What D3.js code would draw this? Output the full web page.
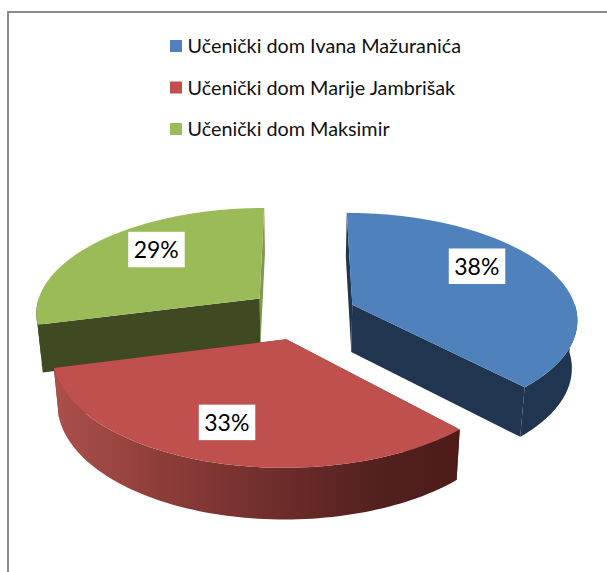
<!DOCTYPE html>
<html>
<head>
<meta charset="utf-8">
<script src="https://cdnjs.cloudflare.com/ajax/libs/d3/7.8.5/d3.min.js"></script>
<style>
html,body{margin:0;padding:0;background:#fff;overflow:hidden}
svg{display:block}
text{font-family:Lato,"Open Sans",sans-serif}
</style>
</head>
<body>
<script>
const categories = ["Učenički dom Ivana Mažuranića", "Učenički dom Marije Jambrišak", "Učenički dom Maksimir"];
const shares = [38, 33, 29];
const topColors = ["#4f81bd", "#c0504d", "#9bbb59"];
const startCutColors = ["#1f3550", "#6e2e2c", "#404a22"];
const endCutColors = ["#1f3550", "#6e2e2c", "#7f9a4a"];
const wallStops = [
  [["0%", "#1f3550"], ["100%", "#1f3550"]],
  [["0%", "#ab504b"], ["25%", "#8f3e3a"], ["55%", "#6e2d2b"], ["80%", "#52201e"], ["100%", "#4e1b19"]],
  [["0%", "#404a22"], ["100%", "#404a22"]]
];
const labelNudges = [[5, -16], [-24, 26], [-5, -13]];
const labelRadius = [0.6, 0.5, 0.6];

const W = 607, H = 572;
const cx = 302, cy = 314, Rx = 225, Ry = 105.5, persp = 0.125, explode = 0.243, depth = 47.5, shrink = 0.98;

const svg = d3.select("body").append("svg").attr("width", W).attr("height", H);
const defs = svg.append("defs");

// chart frame (open on the right and bottom, as cropped)
svg.append("path")
  .attr("d", d3.line()([[8, H], [8, 12], [W, 12]]))
  .attr("fill", "none").attr("stroke", "#8c8c8c").attr("stroke-width", 2);

const pie = d3.pie().sort(null).value(d => d).startAngle(0).endAngle(2 * Math.PI);
const arcs = pie(shares);

// ground plane -> screen, with perspective; z=1 is the underside of the pie
function project(X, Y, z) {
  const w = 1 - persp * Y;
  const sx = Rx * X / w, sy = Ry * Y / w;
  if (!z) return [cx + sx, cy + sy];
  return [cx + sx * shrink, cy + sy + depth / Math.sqrt(w)];
}
const line = d3.line();

const slices = arcs.map((a, i) => {
  const mid = (a.startAngle + a.endAngle) / 2;
  return {
    i, a, mid,
    ax: explode * Math.sin(mid),
    ay: -explode * Math.cos(mid)
  };
});

function rim(s, z, from, to) {
  const n = 80;
  return d3.range(n + 1).map(k => {
    const t = from + (to - from) * k / n;
    return project(s.ax + Math.sin(t), s.ay - Math.cos(t), z);
  });
}

// back to front: green, blue, red
const order = [2, 0, 1];
order.forEach(i => {
  const s = slices[i];
  const g = svg.append("g");
  const top = rim(s, 0, s.a.startAngle, s.a.endAngle), bottom = rim(s, 1, s.a.startAngle, s.a.endAngle);
  const apexTop = project(s.ax, s.ay, 0), apexBottom = project(s.ax, s.ay, 1);

  const grad = defs.append("linearGradient").attr("id", "wall" + i);
  grad.selectAll("stop").data(wallStops[i]).join("stop")
    .attr("offset", d => d[0]).attr("stop-color", d => d[1]);

  // cut faces
  g.append("path")
    .attr("d", line([apexTop, top[top.length - 1], bottom[bottom.length - 1], apexBottom]) + "Z")
    .attr("fill", endCutColors[i]);
  g.append("path")
    .attr("d", line([apexTop, top[0], bottom[0], apexBottom]) + "Z")
    .attr("fill", startCutColors[i]);
  // outer wall: only the part of the rim that faces the viewer
  const from = Math.max(s.a.startAngle, Math.PI / 2), to = Math.min(s.a.endAngle, 3 * Math.PI / 2);
  if (to > from) {
    const wt = rim(s, 0, from, to), wb = rim(s, 1, from, to);
    g.append("path")
      .attr("d", line(wt.concat(wb.slice().reverse())) + "Z")
      .attr("fill", "url(#wall" + i + ")");
  }
  // top face
  g.append("path")
    .attr("d", line([apexTop].concat(top)) + "Z")
    .attr("fill", topColors[i]);
});

// data labels
const fmt = v => Math.round(v / d3.sum(shares) * 100) + "%";
slices.forEach(s => {
  const r = labelRadius[s.i];
  const p = project(s.ax + r * Math.sin(s.mid), s.ay - r * Math.cos(s.mid), 0);
  const x = p[0] + labelNudges[s.i][0], y = p[1] + labelNudges[s.i][1];
  svg.append("rect").attr("x", x - 28).attr("y", y - 18).attr("width", 56.5).attr("height", 35.5).attr("fill", "#fff");
  svg.append("text").attr("x", x).attr("y", y + 8.5).attr("text-anchor", "middle")
    .attr("font-size", 23).attr("fill", "#000").text(fmt(shares[s.i]));
});

// legend
const legendY = d3.scalePoint().domain(d3.range(categories.length)).range([46, 129]);
const legend = svg.append("g").selectAll("g").data(categories).join("g")
  .attr("transform", (d, i) => `translate(170,${legendY(i)})`);
legend.append("rect").attr("x", 0).attr("y", -6).attr("width", 12).attr("height", 12)
  .attr("fill", (d, i) => topColors[i]);
legend.append("text").attr("x", 17.5).attr("y", 7).attr("font-size", 19.8).attr("fill", "#111").text(d => d);
</script>
</body>
</html>
